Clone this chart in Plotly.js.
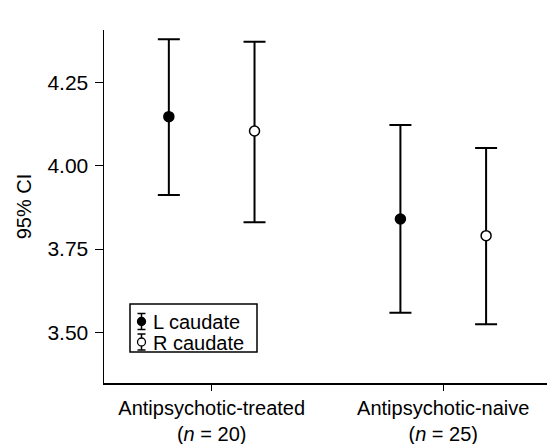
<!DOCTYPE html>
<html>
<head>
<meta charset="utf-8">
<script src="https://cdn.plot.ly/plotly-3.0.1.min.js"></script>
<style>html,body{margin:0;padding:0;background:#fff;}#chart{width:547px;height:444px;}</style>
</head>
<body>
<div id="chart"></div>
<script>
// Data
var categories = ["Antipsychotic-treated<br>(<i>n</i> = 20)", "Antipsychotic-naive<br>(<i>n</i> = 25)"];
var seriesNames = ["L caudate", "R caudate"];
var lMean  = [4.147, 3.840];
var lUpper = [4.379, 4.122];
var lLower = [3.912, 3.559];
var rMean  = [4.104, 3.790];
var rUpper = [4.372, 4.053];
var rLower = [3.830, 3.524];
var yTickVals = [3.50, 3.75, 4.00, 4.25];
var yTickText = ["3.50", "3.75", "4.00", "4.25"];
var seriesFill = ["#000", "#fff"];

function diff(a, b) { return a.map(function (v, i) { return v - b[i]; }); }

var font = "Liberation Sans, Arial, Helvetica, sans-serif";

function makeTrace(name, mean, upper, lower, fill) {
  return {
    type: "scatter",
    mode: "markers",
    name: name,
    x: categories,
    y: mean,
    offsetgroup: name,
    showlegend: false,
    marker: { size: 10, color: fill, line: { color: "#000", width: 1.5 } },
    error_y: {
      type: "data", symmetric: false,
      array: diff(upper, mean), arrayminus: diff(mean, lower),
      color: "#000", thickness: 2, width: 11
    }
  };
}

var data = [
  makeTrace(seriesNames[0], lMean, lUpper, lLower, seriesFill[0]),
  makeTrace(seriesNames[1], rMean, rUpper, rLower, seriesFill[1])
];

// Layout geometry (pixels) for the hand-drawn legend
var W = 547, H = 444, ML = 104, MR = 0, MT = 30, MB = 61;
function px(x) { return (x - ML) / (W - ML - MR); }
function py(y) { return (H - MB - y) / (H - MT - MB); }

var shapes = [];
var annotations = [];
// legend box
shapes.push({ type: "rect", xref: "paper", yref: "paper",
  x0: px(130), x1: px(257), y0: py(304), y1: py(352),
  line: { color: "#000", width: 1.5 }, fillcolor: "#fff" });
seriesNames.forEach(function (name, i) {
  var cy = 321.5 + i * 20.5, cx = 141.5;
  var ln = { color: "#000", width: 1.5 };
  shapes.push({ type: "line", xref: "paper", yref: "paper", x0: px(cx), x1: px(cx), y0: py(cy - 8), y1: py(cy + 8), line: ln });
  shapes.push({ type: "line", xref: "paper", yref: "paper", x0: px(cx - 4), x1: px(cx + 4), y0: py(cy - 8), y1: py(cy - 8), line: ln });
  shapes.push({ type: "line", xref: "paper", yref: "paper", x0: px(cx - 4), x1: px(cx + 4), y0: py(cy + 8), y1: py(cy + 8), line: ln });
  shapes.push({ type: "circle", xref: "paper", yref: "paper", x0: px(cx - 4), x1: px(cx + 4), y0: py(cy - 4), y1: py(cy + 4),
    line: { color: "#000", width: 1.3 }, fillcolor: seriesFill[i] });
  annotations.push({ xref: "paper", yref: "paper", x: px(152), y: py(cy), xanchor: "left", yanchor: "middle",
    height: 19, borderpad: 0,
    text: name, showarrow: false, font: { family: font, size: 20, color: "#000" } });
});

var layout = {
  width: W, height: H,
  margin: { l: ML, r: MR, t: MT, b: MB, pad: 0 },
  paper_bgcolor: "#fff", plot_bgcolor: "#fff",
  scattermode: "group",
  scattergap: 0.26,
  font: { family: font, size: 20, color: "#000" },
  showlegend: false,
  shapes: shapes,
  annotations: annotations,
  xaxis: {
    type: "category",
    range: [-0.465, 1.448],
    showline: true, linecolor: "#000", linewidth: 1.5,
    ticks: "outside", ticklen: 6, tickwidth: 1, tickcolor: "#000",
    showgrid: false, zeroline: false,
    tickfont: { family: font, size: 20, color: "#000" }
  },
  yaxis: {
    range: [3.348, 4.407],
    showline: true, linecolor: "#000", linewidth: 1.5,
    ticks: "outside", ticklen: 8, tickwidth: 1, tickcolor: "#000",
    ticklabelstandoff: 2,
    tickvals: yTickVals, ticktext: yTickText,
    showgrid: false, zeroline: false,
    tickfont: { family: font, size: 21, color: "#000" },
    title: { text: "95% CI", font: { family: font, size: 20, color: "#000" }, standoff: 10 }
  }
};

Plotly.newPlot("chart", data, layout, { displayModeBar: false, staticPlot: true });
</script>
</body>
</html>
